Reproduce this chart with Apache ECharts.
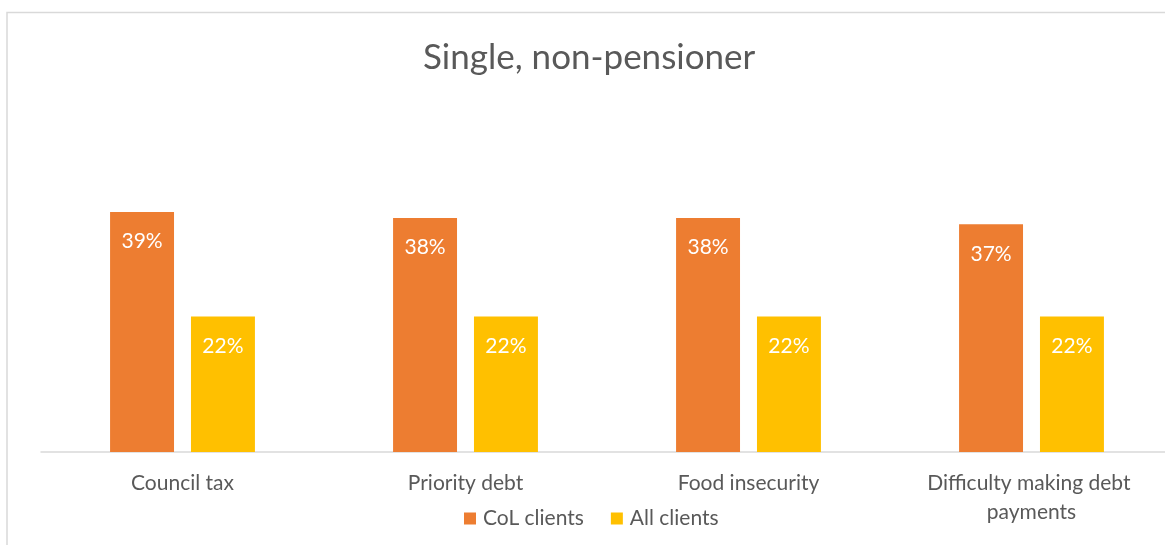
<!DOCTYPE html>
<html>
<head>
<meta charset="utf-8">
<script src="https://cdn.jsdelivr.net/npm/echarts@6/dist/echarts.min.js"></script>
<style>
html,body{margin:0;padding:0;background:#fff;}
#c{width:1165px;height:545px;}
</style>
</head>
<body>
<div id="c"></div>
<script>
const categories = ['Council tax', 'Priority debt', 'Food insecurity', 'Difficulty making debt payments'];
const colClients = [0.39, 0.38, 0.38, 0.37];
const allClients = [0.22, 0.22, 0.22, 0.22];
const seriesNames = ['CoL clients', 'All clients'];
const titleText = 'Single, non-pensioner';

const FONT = 'Lato';
const chart = echarts.init(document.getElementById('c'));
const pct = p => Math.round(p.value * 100) + '%';
chart.setOption({
  animation: false,
  textStyle: { fontFamily: FONT },
  title: {
    text: titleText,
    left: 418,
    top: 35,
    textStyle: { fontFamily: FONT, fontSize: 35, fontWeight: 'normal', color: '#595959' }
  },
  graphic: [{
    type: 'rect',
    shape: { x: 7, y: 12.5, width: 1200, height: 600 },
    style: { fill: 'none', stroke: '#D9D9D9', lineWidth: 1.5 },
    silent: true,
    z: -10
  }],
  legend: {
    data: seriesNames,
    left: 459,
    top: 503,
    itemWidth: 12,
    itemHeight: 12,
    itemGap: 27,
    icon: 'rect',
    textStyle: { fontFamily: FONT, fontSize: 21, color: '#595959', padding: [0, 0, 0, 2] }
  },
  grid: { left: 41, width: 1132, top: 175, bottom: 93, containLabel: false, outerBoundsMode: 'none' },
  xAxis: {
    type: 'category',
    data: categories,
    axisLine: { lineStyle: { color: '#D9D9D9', width: 1.5 } },
    axisTick: { show: false },
    axisLabel: {
      fontFamily: FONT, fontSize: 21, color: '#595959', margin: 17,
      lineHeight: 29, width: 240, overflow: 'break', interval: 0
    }
  },
  yAxis: {
    type: 'value', min: 0, max: 0.45, show: false,
    splitLine: { show: false }
  },
  series: [
    {
      name: seriesNames[0], type: 'bar', data: colClients,
      barWidth: '22.6%', barGap: '26.5%',
      itemStyle: { color: '#ED7D31' },
      label: { show: true, position: 'insideTop', distance: 19, formatter: pct,
        fontFamily: FONT, fontSize: 21, color: '#fff' }
    },
    {
      name: seriesNames[1], type: 'bar', data: allClients,
      barWidth: '22.6%',
      itemStyle: { color: '#FFC000' },
      label: { show: true, position: 'insideTop', distance: 19, formatter: pct,
        fontFamily: FONT, fontSize: 21, color: '#fff' }
    }
  ]
});
</script>
</body>
</html>
